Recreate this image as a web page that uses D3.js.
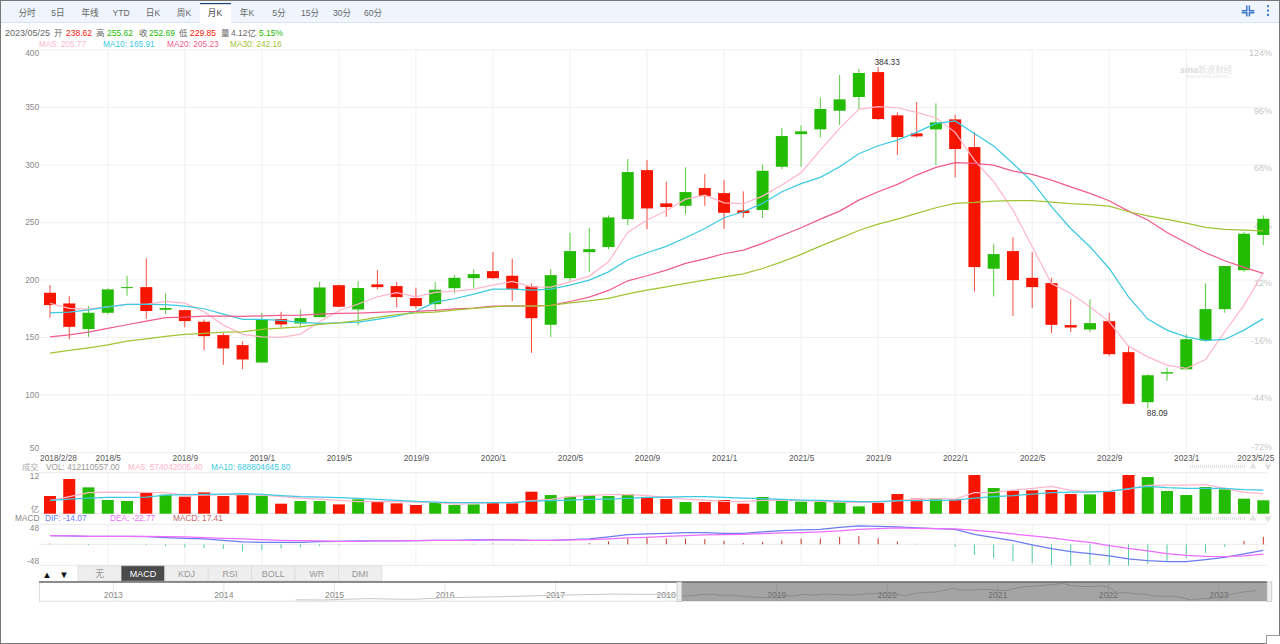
<!DOCTYPE html>
<html lang="zh"><head><meta charset="utf-8"><title>月K</title>
<script src="https://cdnjs.cloudflare.com/ajax/libs/d3/7.8.5/d3.min.js"></script>
<style>
html,body{margin:0;padding:0;background:#fff;overflow:hidden}
svg{display:block}
text{font-family:"Liberation Sans","Noto Sans CJK SC",sans-serif;font-size:8.3px}
</style></head><body><svg id="c" width="1280" height="644"></svg>
<script>
const months=["2018/2","2018/3","2018/4","2018/5","2018/6","2018/7","2018/8","2018/9","2018/10","2018/11","2018/12","2019/1","2019/2","2019/3","2019/4","2019/5","2019/6","2019/7","2019/8","2019/9","2019/10","2019/11","2019/12","2020/1","2020/2","2020/3","2020/4","2020/5","2020/6","2020/7","2020/8","2020/9","2020/10","2020/11","2020/12","2021/1","2021/2","2021/3","2021/4","2021/5","2021/6","2021/7","2021/8","2021/9","2021/10","2021/11","2021/12","2022/1","2022/2","2022/3","2022/4","2022/5","2022/6","2022/7","2022/8","2022/9","2022/10","2022/11","2022/12","2023/1","2023/2","2023/3","2023/4","2023/5"];
const tickMonths=["2018/2","2018/5","2018/9","2019/1","2019/5","2019/9","2020/1","2020/5","2020/9","2021/1","2021/5","2021/9","2022/1","2022/5","2022/9","2023/1","2023/5"];
const gridMonths=tickMonths.slice(1,-1);
const priceTicks=[400,350,300,250,200,150,100,50];
const pctTicks=["124%","96%","68%","40%","12%","-16%","-44%","-72%"];

const bodyHi=[188.4,179.1,171,191.3,193.3,193.3,175.1,173.3,163.2,151.6,142.9,165.2,165.5,166.4,193,195,192.5,195.7,194.2,183.8,191,201.4,204.6,207.2,203.2,193.9,203.7,224.6,226.3,253.9,293.3,295,266.1,275.9,279.4,275,260,294.4,324.6,328.7,348.1,356.5,379.4,380.2,342.6,326.9,336.5,339.1,315,222,224.6,201.4,196.8,160.3,162,163.7,136.8,116.7,119.4,148,174.2,211.6,239.7,252.69];
const bodyLo=[177.7,158.8,156.8,171,192.8,172.5,173.6,163.8,150.7,140,130.4,127.8,160.9,161.7,167.2,176.2,173.9,193.3,184.6,176.8,178.5,192.4,201.1,201.1,191.6,166.3,160.6,201.1,223.7,228.1,252.4,261.7,262.9,264,272.4,257.9,257.7,260.3,297.9,326.3,330.4,346.6,358.5,339.4,323.7,324.3,330.4,313.3,210.7,209.3,199.4,193.3,160.5,158.2,156.5,135,91.9,93.3,118.2,121.9,146.9,174.2,208,238.62];
const highs=[195.1,185.5,176.8,192.2,203.2,218.3,187.8,173.6,165.2,153.6,146.4,171,171.9,173.9,198,195.6,198.6,208.1,198,192.8,197.9,203.7,208.7,223.7,218.2,196.5,209,240.5,244.9,255.6,304.6,303.7,284.9,297.4,291.6,286.3,276.5,299.7,331.6,333.9,358.2,377.7,382.9,384.33,345.2,354.2,353,343.1,328.1,231,236.5,223.7,201.4,182.8,182.8,170.7,142,117.6,123.4,152.4,196.7,211.6,241.4,255.62];
const lows=[166.7,148.1,150.1,169.6,185.8,165.8,169.9,158.3,138.3,125.8,122,127.8,158.3,158.3,167.2,176,160.3,191.3,175.7,174.8,171.9,187.8,192.4,200.3,181.1,136.2,150.1,198.8,206.3,226.3,247.2,243.7,254.5,256.8,264,244,253.6,253.3,295.9,297.9,323.4,334.2,347.8,338.5,308.1,323.1,299.4,288.7,189.5,185.2,168.3,175.3,153.3,154.2,154.2,133.3,91.9,88.09,111.8,121.7,145.8,171,206.6,229.85];
const isUp=[0,0,1,1,1,0,1,0,0,0,0,1,0,1,1,0,1,0,0,0,1,1,1,0,0,0,1,1,1,1,1,0,0,1,0,0,0,1,1,1,1,1,1,0,0,0,1,0,0,1,0,0,0,0,1,0,0,1,1,1,1,1,1,1];

const ma5=[179.1,174.8,174.2,176.2,178.3,178.3,180.9,179.4,171.9,160.3,152.2,150.1,149.6,152.5,163.2,172.8,178.6,184.9,188.4,184.9,188.7,189.8,191.6,195,198.2,193.6,193.3,197.9,202.9,215.3,240.8,251.6,259.7,269.8,273.3,266.6,265.8,272.4,282,292.7,312.4,331.3,347.8,350.1,349.2,345.2,340.5,327.8,303.7,284.9,260.3,228.4,196.5,187.8,176.3,163.1,142,132.7,125.5,122.6,130.4,154.5,177.7,205.77];
const ma10=[171,171.6,173.6,176.2,178.3,178.3,178,176.8,174.5,169.9,165.2,165.2,164.3,162.6,161.7,162.3,162.9,165.2,168.1,172.2,180.3,183.2,187.2,191.6,191.6,190.7,191.6,195,199.4,206.6,217.1,223.2,228.7,236.2,244.3,253.6,258.8,266.1,276.2,283.2,288.7,297.9,309.2,316.2,321.1,327.8,335.6,337.7,326.9,315.9,300.8,284.9,263.2,244.3,228.4,209.5,184.9,165.5,155.9,150.1,146.9,147.8,155.9,165.91];
const ma20=[150.1,151.9,154.2,157.4,160.6,163.8,166.7,167.2,168.1,168.1,167.8,168.4,168.7,169,169.9,170.4,170.7,171.3,171.9,172.2,173,174.5,175,176.8,176.8,176.8,177.4,180.8,184.6,190.4,198.8,203.2,208.1,213.9,217.9,222.3,225.5,231.3,238.2,244.9,252.4,259.4,268.9,276.2,282.6,290.7,297.4,301.4,300.8,299.4,294.2,291.3,286.3,280.5,274.8,268.4,259.4,251.6,240.8,231.9,223.2,216.2,210.4,205.23];
const ma30=[135.9,138.3,140.6,143.2,146.4,148.4,150.4,152.2,153,154.2,154.5,156.5,157.7,158.8,160.9,162.3,164.1,167,169.3,171,171.6,173.3,174.8,176.2,177.1,176.8,177.4,179.7,181.4,183.5,187.5,190.7,193.6,196.5,199.4,202.3,204.9,209.5,215.3,221.7,228.9,235.6,242.5,248.1,252.4,257.4,262.3,266.1,266.9,268.1,268.4,268.4,267.2,265.8,264.9,263.7,258.8,255.3,252.1,249,245.2,243.4,242.9,242.16];

const vol=[5.44,10.67,8.10,4.21,3.90,6.67,5.85,5.23,6.56,5.44,5.74,5.54,3.08,3.9,3.9,2.87,4.41,3.69,3.18,2.67,3.38,2.67,2.87,3.49,3.18,6.77,5.74,5.23,5.74,5.44,6.05,5.03,4.51,3.59,3.59,4.21,3.08,5.13,4.51,3.69,3.59,3.59,2.26,3.28,6.05,4.62,4.62,4.41,11.9,7.9,7.08,7.18,7.28,6.05,5.95,6.77,11.9,11.28,6.97,5.74,8.21,7.49,4.62,4.12];
const volMa5=[4.0,5.23,6.46,6.67,6.56,6.56,6.46,5.74,5.74,5.85,5.95,5.74,5.23,4.82,4.51,4.10,3.69,3.69,3.69,3.59,3.49,2.97,3.08,3.38,3.38,4.0,4.41,5.23,5.64,5.85,5.85,5.54,5.03,4.51,4.21,3.79,3.69,4.10,4.21,4.0,3.79,3.59,3.49,3.49,4.0,4.41,4.62,4.51,6.46,6.46,7.28,7.79,8.41,7.18,6.87,6.87,7.59,8.72,8.82,8.82,8.92,7.79,6.56,6.15];
const volMa10=[4.10,4.51,4.82,5.03,5.03,5.13,5.74,5.85,5.95,6.05,6.15,5.95,5.54,5.23,5.13,4.92,4.72,4.41,4.10,3.79,3.59,3.38,3.38,3.38,3.38,3.90,4.0,4.21,4.41,4.51,4.72,5.03,5.13,5.23,5.23,5.03,4.82,4.62,4.41,4.21,4.10,3.9,3.69,3.69,4,4,4.1,4.21,4.82,5.23,5.54,6.05,6.46,6.67,6.67,6.87,7.69,8.41,8,7.79,7.79,7.79,7.38,7.28];

const dif=[20.3,19.5,18.7,18.7,18.7,17.9,15.6,14,12.5,9.4,5.5,4.7,4.7,4.7,6.2,7,7.8,7.8,7.8,8.6,9.4,9.4,10.1,10.9,10.1,9.4,9.4,10.9,12.5,17.2,22.6,24.2,25.7,27.3,27.3,25.7,25.7,28.9,32,33.5,35.1,39.8,42.9,42.1,40.6,38.2,36.7,35.1,23.4,15.6,8.6,-1.6,-10.1,-17.2,-21.8,-27.3,-34.3,-38.2,-40.6,-40.6,-35.9,-30.4,-22.6,-14.07];
const dea=[20.3,19.5,18.7,18.7,18.7,18.7,17.9,17.2,15.6,14,12.5,10.9,9.4,8.6,7.8,7,7,7.8,7.8,8.6,9.4,9.4,9.4,10.1,10.1,9.4,9.4,10.1,10.9,12.5,14.8,16.4,18.7,20.3,21.8,22.6,23.4,25,26.5,27.3,28.9,31.2,35.1,36.7,38.2,37.4,36.7,35.9,32.8,28.9,24.2,19.5,14.8,9.4,4.7,-3.1,-9.4,-15.6,-21.8,-25.7,-28.1,-28.9,-27.3,-22.77];
const hist=[1.5,-1,-2,0,0,-2,-4,-7,-9,-11,-17,-13,-10,-7,-4,-2,0,0,0,0,0,0,1,2,1,-1,-1,1,3,7,14,15,14,13,12,8,3,6,9,13,14,17,19.5,14,7,0.8,0,-6,-25,-32,-40,-44,-48,-50,-48,-48,-50,-46,-40,-32,-20,-6,8,17.41];

const overviewYears=[2014.65,2014.9,2015.3,2015.7,2016,2016.5,2017,2017.5,2018.08];
const overviewVals=[97,95,118,105,133,150,176,195,188];
const yearLabels=[2013,2014,2015,2016,2017,2018,2019,2020,2021,2022,2023];
const periodTabs=["分时","5日","年线","YTD","日K","周K","月K","年K","5分","15分","30分","60分"];
const indicatorTabs=["无","MACD","KDJ","RSI","BOLL","WR","DMI"];

const C={up:"#23bb03",down:"#f61600",ma5:"#ffb6cb",ma10:"#3cc9e2",ma20:"#f05c8c",ma30:"#a2c435",grid:"#f0f0f0",txt:"#888",dif:"#6b7cf2",dea:"#ee6cff",pos:"#c23a2a",neg:"#53cba6"};
const svg=d3.select("#c");
const x=d3.scalePoint().domain(months).range([50,1263.3]);
const y=d3.scaleLinear().domain([50,400]).range([452,49.3]);
const yV=d3.scaleLinear().domain([0,12]).range([513.7,474.7]);
const yM=d3.scaleLinear().domain([-48,48]).range([564.8,523.8]);
const L=39,R=1267;
const col=i=>isUp[i]?C.up:C.down;
const t=(g,s,px,py,fill,opt={})=>g.append("text").attr("x",px).attr("y",py).attr("fill",fill).attr("text-anchor",opt.a||"start").attr("dominant-baseline","central").style("font-size",opt.fs?opt.fs+"px":null).style("font-weight",opt.w||null).style("font-style",opt.i||null).text(s);

/* vertical grid, drawn per pane */
const bands=[[49.3,452],[472.7,513.7],[524,565.3]];
bands.forEach(b=>svg.append("g").selectAll("line").data(gridMonths).join("line")
 .attr("x1",d=>x(d)).attr("x2",d=>x(d)).attr("y1",b[0]).attr("y2",b[1]).attr("stroke",C.grid));

/* price axis with horizontal grid */
const gy=svg.append("g").attr("transform",`translate(${L},0)`)
 .call(d3.axisLeft(y).tickValues(priceTicks).tickSize(0).tickPadding(0));
gy.select(".domain").remove();
gy.selectAll(".tick line").attr("x2",R-L).attr("stroke",C.grid);
gy.selectAll(".tick text").attr("fill",C.txt).attr("dy","0.32em").attr("y",d=>d===400?3.5:d===50?-4:0);

/* percent labels on the right */
const pctScale=d3.scalePoint().domain(pctTicks).range([49.3,452]);
const gp=svg.append("g").attr("transform","translate(1272,0)").call(d3.axisRight(pctScale).tickSize(0).tickPadding(0));
gp.select(".domain").remove();
gp.selectAll(".tick text").attr("text-anchor","end").attr("fill","#c9c9c9").attr("dy","0.32em").attr("y",d=>d==="-72%"?-5:3.5).style("font-size","9px");

/* time axis */
const gx=svg.append("g").attr("transform","translate(0,458)")
 .call(d3.axisBottom(x).tickValues(tickMonths).tickSize(0).tickPadding(0).tickFormat(d=>d==="2018/2"?"2018/2/28":d==="2023/5"?"2023/5/25":d));
gx.select(".domain").remove();
gx.selectAll(".tick text").attr("fill","#555").attr("dominant-baseline","central").attr("dy",0).attr("x",d=>d==="2018/2"?8:d==="2023/5"?-8:0);

/* watermark */
const wm=svg.append("g");
t(wm,"sina",1180,70,"#d8d8d8",{fs:9,w:"bold",i:"italic"});
t(wm,"新浪财经",1198,69.5,"#e0e0e0",{fs:8.6});
t(wm,"finance.sina.com.cn",1186,76.5,"#e6e6e6",{fs:4.8});

/* candles */
const cg=svg.append("g");
cg.selectAll(".w").data(months).join("rect").attr("x",d=>x(d)-.5).attr("width",1)
 .attr("y",(d,i)=>y(highs[i])).attr("height",(d,i)=>y(lows[i])-y(highs[i])).attr("fill",(d,i)=>col(i)).attr("opacity",.75);
cg.selectAll(".b").data(months).join("rect").attr("x",d=>x(d)-6).attr("width",12)
 .attr("y",(d,i)=>y(bodyHi[i])).attr("height",(d,i)=>Math.max(1,y(bodyLo[i])-y(bodyHi[i]))).attr("fill",(d,i)=>col(i));

const pl=(ys,arr)=>d3.line().x((d,i)=>x(months[i])).y(d=>ys(d))(arr);
const addLine=(ys,arr,c,w=1.25)=>svg.append("path").attr("d",pl(ys,arr)).attr("fill","none").attr("stroke",c).attr("stroke-width",w);
addLine(y,ma5,C.ma5);addLine(y,ma10,C.ma10);addLine(y,ma20,C.ma20);addLine(y,ma30,C.ma30);

t(svg,"384.33",x("2021/9")+9,62,"#333",{a:"middle"});
t(svg,"88.09",x("2022/11")+9.5,413,"#333",{a:"middle"});

/* volume pane */
svg.append("line").attr("x1",L).attr("x2",R).attr("y1",472.7).attr("y2",472.7).attr("stroke","#eaeaea");
svg.append("line").attr("x1",L).attr("x2",R).attr("y1",513.7).attr("y2",513.7).attr("stroke","#eaeaea");
svg.append("g").selectAll("rect").data(vol).join("rect").attr("x",(d,i)=>x(months[i])-6).attr("width",12)
 .attr("y",d=>yV(d)).attr("height",d=>yV(0)-yV(d)).attr("fill",(d,i)=>col(i));
addLine(yV,volMa5,C.ma5);addLine(yV,volMa10,C.ma10);
t(svg,"12",39,476,C.txt,{a:"end"});
t(svg,"亿",39,509,C.txt,{a:"end"});

/* macd pane */
[524.3,544.3,565.3].forEach(v=>svg.append("line").attr("x1",L).attr("x2",R).attr("y1",v).attr("y2",v).attr("stroke","#eaeaea"));
svg.append("g").selectAll("rect").data(hist).join("rect").attr("x",(d,i)=>x(months[i])-.5).attr("width",1)
 .attr("y",d=>Math.min(yM(d),yM(0))).attr("height",d=>Math.abs(yM(d)-yM(0))).attr("fill",d=>d>=0?C.pos:C.neg);
addLine(yM,dif,C.dif);addLine(yM,dea,C.dea);
t(svg,"48",39,528,C.txt,{a:"end"});
t(svg,"-48",39,561,C.txt,{a:"end"});

/* resize grips on the right of panes */
[466.5,518.5].forEach(py=>{
 [-1.2,0,1.2].forEach(o=>svg.append("line").attr("x1",1190).attr("x2",1245).attr("y1",py+o).attr("y2",py+o).attr("stroke","#ddd").attr("stroke-dasharray","1 1"));
 svg.append("path").attr("d",d3.symbol(d3.symbolTriangle,22)()).attr("transform",`translate(1253,${py})`).attr("fill","#e2e2e2");
 svg.append("path").attr("d",d3.symbol(d3.symbolTriangle,22)()).attr("transform",`translate(1268,${py}) rotate(180)`).attr("fill","#e2e2e2");
});

/* legends */
const hdr=[["2023/05/25",5,"#666"],["开",54,"#666"],["238.62",66,C.down],["高",96,"#666"],["255.62",107,C.up],["收",139,"#666"],["252.69",149,C.up],["低",179,"#666"],["229.85",190,C.down],["量",221,"#666"],["4.12亿",231,"#666"],["5.15%",259,C.up]];
hdr.forEach(h=>t(svg,h[0],h[1],33,h[2],{fs:h[0]==="2023/05/25"?9:8.5}));
[["MA5: 205.77",39,C.ma5],["MA10: 165.91",103,C.ma10],["MA20: 205.23",167,C.ma20],["MA30: 242.16",230,C.ma30]].forEach(h=>t(svg,h[0],h[1],44,h[2]));
[["成交",22,"#aaa"],["VOL: 412110557.00",46,"#999"],["MA5: 574042005.40",128,C.ma5],["MA10: 688804645.80",211,C.ma10]].forEach(h=>t(svg,h[0],h[1],467,h[2]));
[["MACD",15,"#888"],["DIF: -14.07",45,C.dif],["DEA: -22.77",110,C.dea],["MACD: 17.41",173,"#c46a6a"]].forEach(h=>t(svg,h[0],h[1],518,h[2]));

/* top toolbar */
const tb=svg.append("g");
tb.append("rect").attr("x",1).attr("y",1).attr("width",1278).attr("height",21.5).attr("fill","#eef5fd");
tb.append("line").attr("x1",1).attr("x2",1279).attr("y1",22.5).attr("y2",22.5).attr("stroke","#d5e3f2");
tb.append("rect").attr("x",200).attr("y",3).attr("width",31).attr("height",20).attr("fill","#fff");
tb.append("rect").attr("x",200).attr("y",3).attr("width",31).attr("height",1.2).attr("fill","#1f3d7a");
const tabX=[27,58,90,121,153,184,215,247,279,310,342,373];
periodTabs.forEach((s,i)=>t(tb,s,tabX[i],13,i===6?"#444":"#666",{a:"middle",fs:8.6}));
const ic=tb.append("g").attr("stroke","#3b78c9").attr("stroke-width",1.5).attr("fill","none");
["M1246.8 5.5v5.2h-5","M1249.4 5.5v5.2h5","M1246.8 16.5v-3.8h-5","M1249.4 16.5v-3.8h5"].forEach(d=>ic.append("path").attr("d",d));
[5.2,9.5,13.9].forEach(v=>tb.append("rect").attr("x",1267).attr("y",v).attr("width",2).attr("height",2).attr("fill","#3b78c9"));

/* indicator tabs */
const ib=svg.append("g");
t(ib,"▲",47,574,"#111",{a:"middle",fs:9.5});
t(ib,"▼",64,574,"#111",{a:"middle",fs:9.5});
const tabW=43.4;
indicatorTabs.forEach((s,i)=>{
 const a=78+i*tabW,on=s==="MACD";
 ib.append("rect").attr("x",a).attr("y",566).attr("width",tabW).attr("height",15).attr("fill",on?"#4a4a4a":"#eee").attr("stroke",on?"#888":"#ddd").attr("stroke-width",.8);
 t(ib,s,a+tabW/2,574,on?"#fff":"#999",{a:"middle",fs:9});
});

/* overview navigator */
const ox=d3.scaleLinear().domain([2013,2023]).range([113.3,1219]);
const oy=d3.scaleLinear().domain([50,379]).range([602.6,583.3]);
const ob=svg.append("g");
ob.append("line").attr("x1",39.5).attr("x2",39.5).attr("y1",582).attr("y2",601.5).attr("stroke","#ddd");
ob.append("line").attr("x1",39).attr("x2",1267).attr("y1",601.2).attr("y2",601.2).attr("stroke","#ddd");
ob.selectAll(".yt").data(yearLabels).join("line").attr("x1",d=>ox(d)).attr("x2",d=>ox(d)).attr("y1",582).attr("y2",601).attr("stroke","#e6e6e6");
yearLabels.forEach(d=>t(ob,d,ox(d),595,"#888",{a:"middle",fs:8.6}));
const closes=bodyHi.map((v,i)=>isUp[i]?v:bodyLo[i]);
const ovPts=overviewYears.map((v,i)=>[ox(v),oy(overviewVals[i])]).concat(closes.map((v,i)=>[ox(2018+(i+1)/12),oy(v)]));
ob.append("path").attr("d",d3.line()(ovPts)).attr("fill","none").attr("stroke","#c8c8c8").attr("stroke-width",1);
ob.append("rect").attr("x",681.5).attr("y",582).attr("width",585.5).attr("height",19).attr("fill","#5a5a5a").attr("fill-opacity",.55);
ob.append("line").attr("x1",39).attr("x2",1267).attr("y1",582).attr("y2",582).attr("stroke","#666").attr("stroke-width",1.4);
[677,1267].forEach(v=>ob.append("rect").attr("x",v).attr("y",582).attr("width",4.8).attr("height",19.5).attr("fill","#eee").attr("stroke","#bbb").attr("stroke-width",.7));

/* page border */
svg.append("rect").attr("x",.5).attr("y",.5).attr("width",1279).attr("height",643).attr("fill","none").attr("stroke","#777");
svg.append("rect").attr("x",1266.5).attr("y",635.5).attr("width",14).attr("height",9).attr("fill","#fff").attr("stroke","#999");
</script></body></html>
